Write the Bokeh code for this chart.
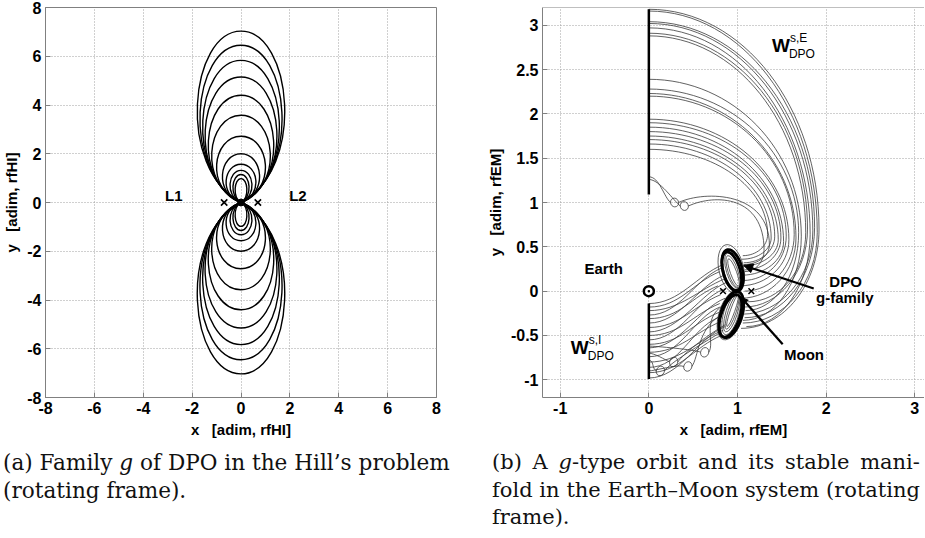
import numpy as np
from bokeh.plotting import figure
from bokeh.models import (FixedTicker, Span, Arrow, NormalHead, Div, Range1d,
                          ColumnDataSource, CustomJSTickFormatter)
from bokeh.layouts import row, column
from bokeh.embed import file_html
from bokeh.resources import INLINE
from bokeh.core.properties import value

# ---------------- panel (a): family g of DPO, Hill's problem ----------------
g_height = [7.03, 6.45, 5.83, 5.15, 4.40, 3.58, 2.72, 2.00, 1.57, 1.32, 1.15, 0.98]
g_halfwidth = [1.79, 1.68, 1.57, 1.47, 1.34, 1.20, 1.00, 0.76, 0.61, 0.45, 0.33, 0.24]
lib_a_x = [-0.69, 0.69]
lib_a_y = [0.0, 0.0]
lib_a_names = ["L1", "L2"]
lib_a_label_x = [-2.75, 2.33]
lib_a_label_y = [0.28, 0.28]
ticks_a = [-8, -6, -4, -2, 0, 2, 4, 6, 8]

# ---------------- panel (b): g-type orbit and stable manifold ----------------
ticks_bx = [-1, 0, 1, 2, 3]
ticks_by = [-1, -0.5, 0, 0.5, 1, 1.5, 2, 2.5, 3]
# outer branch W^{s,E}: start height on x=0, rightmost point, end near the orbit
wse_y0 = [3.18, 3.16, 3.04, 3.02, 2.97, 2.91, 2.88, 2.39, 2.28, 2.23, 2.20,
          1.94, 1.90, 1.85, 1.80, 1.75, 1.71, 1.66, 1.60]
wse_xmax = [1.92, 1.90, 1.87, 1.85, 1.82, 1.79, 1.77, 1.72, 1.69, 1.66, 1.64,
            1.58, 1.55, 1.52, 1.49, 1.46, 1.42, 1.38, 1.34]
wse_ymax = [0.70, 0.66, 0.72, 0.68, 0.64, 0.70, 0.66, 0.62, 0.66, 0.60, 0.64,
            0.58, 0.62, 0.56, 0.60, 0.58, 0.62, 0.60, 0.64]
wse_xend = [1.04, 1.06, 1.08, 1.05, 1.10, 1.07, 1.12, 1.06, 1.09, 1.04, 1.08,
            1.03, 1.06, 1.05, 1.08, 1.04, 1.07, 1.05, 1.06]
wse_yend = [-0.42, -0.36, -0.30, -0.26, -0.40, -0.18, -0.12, -0.33, -0.22, -0.08, 0.00,
            0.06, 0.12, 0.18, 0.24, 0.28, 0.32, 0.36, 0.40]
# W^{s,E} trajectories with a small loop
wsel_y0 = [1.29, 1.26]
wsel_cx = [0.29, 0.40]
wsel_cy = [1.00, 0.96]
wsel_xmax = [1.36, 1.30]
wsel_ymax = [0.52, 0.46]
wsel_xend = [1.07, 1.08]
wsel_yend = [0.30, 0.22]
# inner branch W^{s,I}
wsi_y0 = [-0.14, -0.18, -0.22, -0.27, -0.31, -0.36, -0.41, -0.46, -0.50,
          -0.55, -0.60, -0.64, -0.69, -0.74, -0.80, -0.86, -0.92, -0.98]
wsi_xend = [0.84, 0.80, 0.86, 0.82, 0.78, 0.85, 0.81, 0.88, 0.80,
            0.84, 0.79, 0.86, 0.82, 0.80, 0.84, 0.78, 0.82, 0.86]
wsi_yend = [0.30, 0.22, 0.14, 0.26, 0.06, 0.18, -0.04, 0.10, -0.14,
            0.02, -0.24, -0.08, -0.34, -0.18, -0.44, -0.30, -0.50, -0.40]
# W^{s,I} trajectories with a small loop
wsil_y0 = [-0.78, -0.70, -0.90, -0.62]
wsil_cx = [0.13, 0.28, 0.44, 0.63]
wsil_cy = [-0.90, -0.80, -0.85, -0.69]
wsil_xend = [0.82, 0.86, 0.80, 0.84]
wsil_yend = [-0.46, -0.38, -0.28, -0.16]
# DPO orbit lobes (thick) and inner windings (thin)
dpo_cx = [0.945, 0.935, 0.930, 0.920]
dpo_cy = [0.235, 0.225, -0.265, -0.280]
dpo_w = [0.22, 0.19, 0.24, 0.21]
dpo_h = [0.48, 0.45, 0.54, 0.50]
dpo_ang = [0.25, 0.28, -0.30, -0.33]
win_cx = [0.930, 0.950, 0.950, 0.955, 0.930, 0.935, 0.940, 0.945, 0.925]
win_cy = [0.250, 0.230, 0.220, 0.210, -0.250, -0.240, -0.230, -0.220, -0.270]
win_w = [0.28, 0.15, 0.11, 0.07, 0.17, 0.13, 0.09, 0.05, 0.27]
win_h = [0.56, 0.42, 0.38, 0.33, 0.50, 0.46, 0.42, 0.38, 0.58]
win_ang = [0.22, 0.30, 0.32, 0.35, -0.28, -0.30, -0.32, -0.34, -0.30]
# barrier segments on x = 0
bar_x = [0.0, 0.0]
bar_y0 = [1.09, -0.14]
bar_y1 = [3.18, -0.99]
# Earth, libration points
earth_x = [0.0]
earth_y = [0.0]
lib_b_x = [0.837, 1.156]
lib_b_y = [0.0, 0.0]
# labels
lbl_text = ["Earth", "DPO", "g-family", "Moon"]
lbl_x = [-0.51, 2.22, 2.21, 1.75]
lbl_y = [0.25, 0.11, -0.07, -0.71]
w_x = [1.49, -0.78]
w_y = [2.77, -0.64]
w_sup = ["s,E", "s,I"]
w_sub = ["DPO", "DPO"]
# pointers: DPO label -> orbit, Moon label -> Moon
ptr_x0 = [1.86, 1.51]
ptr_y0 = [0.03, -0.60]
ptr_x1 = [1.07, 1.04]
ptr_y1 = [0.29, -0.07]

FONT = "Liberation Sans"
AXC = "#808080"
K = 0.5523


def style_axes(p, xt, yt, xlabel, ylabel):
    fmt = CustomJSTickFormatter(code="return tick.toString();")
    p.xaxis.ticker = FixedTicker(ticks=xt)
    p.yaxis.ticker = FixedTicker(ticks=yt)
    p.xgrid.ticker = FixedTicker(ticks=xt)
    p.ygrid.ticker = FixedTicker(ticks=yt)
    p.xaxis.axis_label = xlabel
    p.yaxis.axis_label = ylabel
    for ax in p.axis:
        ax.formatter = fmt
        ax.major_tick_in = 5
        ax.major_tick_out = 0
        ax.minor_tick_line_color = None
        ax.axis_line_color = AXC
        ax.major_tick_line_color = AXC
        ax.major_label_text_font = FONT
        ax.major_label_text_font_style = "bold"
        ax.major_label_text_font_size = "16px"
        ax.major_label_text_color = "black"
        ax.major_label_standoff = 4
        ax.axis_label_text_font = FONT
        ax.axis_label_text_font_style = "bold"
        ax.axis_label_text_font_size = "15px"
        ax.axis_label_text_color = "black"
        ax.axis_label_standoff = 4
    for g in p.grid:
        g.grid_line_color = "#a0a0a0"
        g.grid_line_dash = "1 2"
        g.grid_line_width = 1


# ================= figure (a) =================
pa = figure(width=470, height=449, x_range=Range1d(-8, 8), y_range=Range1d(-8, 8),
            output_backend="svg", toolbar_location=None,
            min_border_left=45, min_border_right=34, min_border_top=7, min_border_bottom=52)
style_axes(pa, ticks_a, ticks_a, "x\u00a0\u00a0 [adim, rfHI]", "y\u00a0\u00a0 [adim, rfHI]")
pa.outline_line_color = AXC
pa.background_fill_color = "white"
pa.border_fill_color = "white"

H = np.array(g_height)
A = np.array(g_halfwidth)
cols = {k: [] for k in ["x0", "y0", "x1", "y1", "cx0", "cy0", "cx1", "cy1"]}
for sx in (1, -1):
    for sy in (1, -1):
        n = len(H)
        cols["x0"] += [0.0] * n
        cols["y0"] += [0.0] * n
        cols["x1"] += [0.0] * n
        cols["y1"] += list(sy * H)
        cols["cx0"] += list(sx * 1.5 * A)
        cols["cy0"] += list(sy * 0.2 * H)
        cols["cx1"] += list(sx * 1.155 * A)
        cols["cy1"] += list(sy * H)
pa.bezier(x0="x0", y0="y0", x1="x1", y1="y1", cx0="cx0", cy0="cy0", cx1="cx1", cy1="cy1",
          source=ColumnDataSource(cols), line_color="black", line_width=1.4)
pa.scatter([0.0], [0.0], size=7, color="black")
pa.scatter(lib_a_x, lib_a_y, marker="x", size=9, line_color="black", line_width=1.6)
pa.text(lib_a_label_x, lib_a_label_y, text=lib_a_names, text_font=value(FONT),
        text_font_style="bold", text_font_size="15px", text_align="center",
        text_baseline="middle", text_color="black")

# ================= figure (b) =================
pb = figure(width=454, height=449, x_range=Range1d(-1.2, 3.11), y_range=Range1d(-1.2, 3.2),
            output_backend="svg", toolbar_location=None,
            min_border_left=72, min_border_right=0, min_border_top=7, min_border_bottom=52)
style_axes(pb, ticks_bx, ticks_by, "x\u00a0\u00a0 [adim, rfEM]", "y\u00a0\u00a0 [adim, rfEM]")
pb.outline_line_color = None
pb.add_layout(Span(location=3.2, dimension="width", line_color=AXC, line_width=1))
pb.background_fill_color = "white"
pb.border_fill_color = "white"

THIN = dict(line_color="#3a3a3a", line_width=0.8)

# W^{s,E} arcs: quarter arc to the rightmost point, then down into the orbit
y0 = np.array(wse_y0); xm = np.array(wse_xmax); ym = np.array(wse_ymax)
xe = np.array(wse_xend); ye = np.array(wse_yend)
z = np.zeros_like(y0)
s1 = dict(x0=z, y0=y0, x1=xm, y1=ym, cx0=K * xm, cy0=y0, cx1=xm, cy1=ym + K * (y0 - ym))
s2 = dict(x0=xm, y0=ym, x1=xe, y1=ye, cx0=xm, cy0=ym - K * (ym - ye),
          cx1=xe + K * (xm - xe), cy1=ye)
for s in (s1, s2):
    pb.bezier(source=ColumnDataSource(s), x0="x0", y0="y0", x1="x1", y1="y1",
              cx0="cx0", cy0="cy0", cx1="cx1", cy1="cy1", **THIN)

# W^{s,E} looped trajectories
ly0 = np.array(wsel_y0); lcx = np.array(wsel_cx); lcy = np.array(wsel_cy)
lxm = np.array(wsel_xmax); lym = np.array(wsel_ymax)
lxe = np.array(wsel_xend); lye = np.array(wsel_yend)
lz = np.zeros_like(ly0)
la = dict(x0=lz, y0=ly0, x1=lcx - 0.045, y1=lcy, cx0=lz + 0.12, cy0=ly0,
          cx1=lcx - 0.12, cy1=lcy + 0.06)
lb = dict(x0=lcx + 0.045, y0=lcy, x1=lxm, y1=lym, cx0=lcx + 0.35, cy0=lcy + 0.14,
          cx1=lxm, cy1=lcy + 0.12)
lc = dict(x0=lxm, y0=lym, x1=lxe, y1=lye, cx0=lxm, cy0=lym - K * (lym - lye),
          cx1=lxe + K * (lxm - lxe), cy1=lye)
for s in (la, lb, lc):
    pb.bezier(source=ColumnDataSource(s), x0="x0", y0="y0", x1="x1", y1="y1",
              cx0="cx0", cy0="cy0", cx1="cx1", cy1="cy1", **THIN)
pb.ellipse(x=wsel_cx, y=wsel_cy, width=0.09, height=0.10, angle=0.4, fill_color=None, **THIN)

# W^{s,I} trajectories
iy0 = np.array(wsi_y0); ixe = np.array(wsi_xend); iye = np.array(wsi_yend)
iz = np.zeros_like(iy0)
si = dict(x0=iz, y0=iy0, x1=ixe, y1=iye, cx0=iz + 0.35, cy0=iy0,
          cx1=ixe - 0.30, cy1=iye - 0.12)
pb.bezier(source=ColumnDataSource(si), x0="x0", y0="y0", x1="x1", y1="y1",
          cx0="cx0", cy0="cy0", cx1="cx1", cy1="cy1", **THIN)

# W^{s,I} looped trajectories
jy0 = np.array(wsil_y0); jcx = np.array(wsil_cx); jcy = np.array(wsil_cy)
jxe = np.array(wsil_xend); jye = np.array(wsil_yend)
jz = np.zeros_like(jy0)
ja = dict(x0=jz, y0=jy0, x1=jcx - 0.045, y1=jcy, cx0=jz + 0.06, cy0=jy0,
          cx1=jcx - 0.10, cy1=jcy + 0.03)
jb = dict(x0=jcx + 0.045, y0=jcy, x1=jxe, y1=jye, cx0=jcx + 0.12, cy0=jcy + 0.10,
          cx1=jxe - 0.25, cy1=jye - 0.15)
for s in (ja, jb):
    pb.bezier(source=ColumnDataSource(s), x0="x0", y0="y0", x1="x1", y1="y1",
              cx0="cx0", cy0="cy0", cx1="cx1", cy1="cy1", **THIN)
pb.ellipse(x=wsil_cx, y=wsil_cy, width=0.09, height=0.11, angle=-0.4, fill_color=None, **THIN)

# orbit windings and the DPO itself
pb.ellipse(x=win_cx, y=win_cy, width=win_w, height=win_h, angle=win_ang,
           fill_color=None, **THIN)
pb.ellipse(x=dpo_cx, y=dpo_cy, width=dpo_w, height=dpo_h, angle=dpo_ang,
           fill_color=None, line_color="black", line_width=2.8)

# barriers on x = 0
pb.segment(x0=bar_x, y0=bar_y0, x1=bar_x, y1=bar_y1, line_color="black", line_width=2.5)

# Earth and libration points
pb.scatter(earth_x, earth_y, marker="circle_dot", size=10, line_color="black",
           line_width=2.5, fill_color="white")
pb.scatter(lib_b_x, lib_b_y, marker="x", size=8, line_color="black", line_width=1.5)

# labels
TXT = dict(text_font=value(FONT), text_font_style="bold", text_color="black")
pb.text(lbl_x, lbl_y, text=lbl_text, text_font_size="15px", text_align="center",
        text_baseline="middle", **TXT)
pb.text(w_x, w_y, text=["W", "W"], text_font_size="19px", text_align="center",
        text_baseline="middle", **TXT)
pb.text(w_x, w_y, text=w_sup, text_font_size="12px", text_align="left",
        text_baseline="middle", x_offset=9, y_offset=-8, text_font=value(FONT),
        text_color="black")
pb.text(w_x, w_y, text=w_sub, text_font_size="12px", text_align="left",
        text_baseline="middle", x_offset=8, y_offset=8, text_font=value(FONT),
        text_color="black")

# pointers
heads = [9, 7]
for i in range(len(ptr_x0)):
    pb.add_layout(Arrow(end=NormalHead(size=heads[i], fill_color="black", line_color="black"),
                        x_start=ptr_x0[i], y_start=ptr_y0[i], x_end=ptr_x1[i], y_end=ptr_y1[i],
                        line_color="black", line_width=2.2))

# ================= captions =================
CAP = ("font-family:'DejaVu Serif';line-height:27.5px;color:#111;white-space:nowrap;")


def just_line(words, width):
    spans = "".join("<span>%s</span>" % w for w in words)
    return ("<div style='display:flex;justify-content:space-between;width:%dpx'>%s</div>"
            % (width, spans))


cap_a = ("<div style=\"%s font-size:21.6px;padding-left:3px\">"
         "<div>(a) Family <i>g</i> of DPO in the Hill\u2019s problem</div>"
         "<div>(rotating frame).</div></div>" % CAP)
cap_b = ("<div style=\"%s font-size:21px;padding-left:22px\">" % CAP
         + just_line(["(b)", "A", "<i>g</i>-type", "orbit", "and", "its", "stable", "mani-"], 428)
         + just_line(["fold", "in", "the", "Earth\u2013Moon", "system", "(rotating"], 428)
         + "<div>frame).</div></div>")
da = Div(text=cap_a, width=470, height=86, margin=0)
db = Div(text=cap_b, width=454, height=86, margin=0)

layout = column(row(pa, pb), row(da, db))
open("out.html", "w").write(file_html(layout, INLINE))
